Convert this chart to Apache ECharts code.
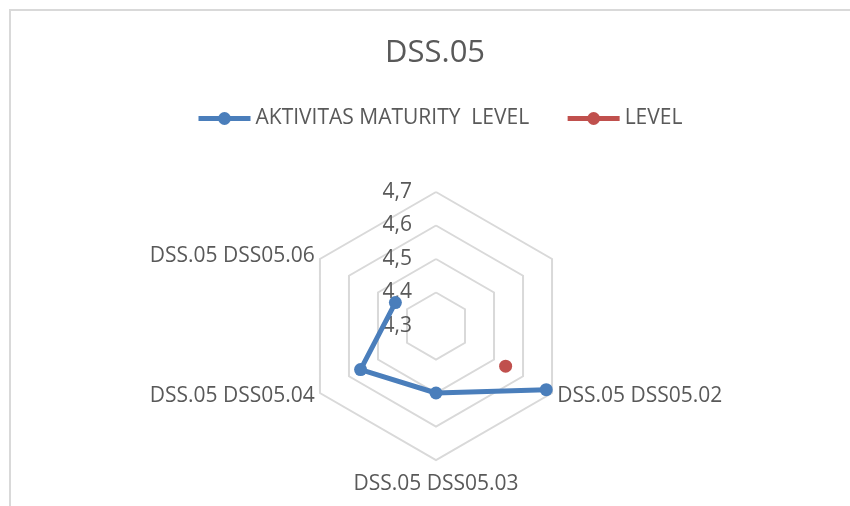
<!DOCTYPE html>
<html>
<head>
<meta charset="utf-8">
<script src="https://cdn.jsdelivr.net/npm/echarts@6/dist/echarts.min.js"></script>
<style>
html,body{margin:0;padding:0;background:#fff;}
#chart{width:850px;height:506px;}
</style>
</head>
<body>
<div id="chart"></div>
<script>
// Categories in clockwise order starting at the top (as in the source chart)
var categories = ['', '', 'DSS.05 DSS05.02', 'DSS.05 DSS05.03', 'DSS.05 DSS05.04', 'DSS.05 DSS05.06'];
var seriesNames = ['AKTIVITAS MATURITY  LEVEL', 'LEVEL'];
var aktivitasValues = [null, null, 4.68, 4.50, 4.56, 4.44];
var levelValues = [null, null, 4.54, null, null, null];
var axisMin = 4.3, axisMax = 4.7, axisSplits = 4;

var chart = echarts.init(document.getElementById('chart'), null, {renderer: 'canvas'});
var FONT = '"Open Sans", "Liberation Sans", sans-serif';
var TXT = '#595959';
var center = [436, 326];
var radius = 134;

// ECharts radar places indicators counter-clockwise; reorder so the
// hexagon matches the clockwise polar layout used for the series.
var radarOrder = [0];
for (var k = categories.length - 1; k >= 1; k--) radarOrder.push(k);
var indicators = radarOrder.map(function (i) {
  var ind = {name: categories[i], min: axisMin, max: axisMax, catIndex: i};
  if (i === 0) ind.axisLabel = {show: true};
  return ind;
});
var bottomIndex = categories.length / 2;

chart.setOption({
  backgroundColor: '#ffffff',
  animation: false,
  title: {
    text: 'DSS.05',
    left: 380,
    top: 33,
    textStyle: {fontFamily: FONT, fontSize: 31, fontWeight: 'normal', color: TXT}
  },
  legend: {
    top: 103,
    left: 191,
    itemWidth: 52,
    itemHeight: 16,
    itemGap: 36,
    lineStyle: {width: 5},
    textStyle: {fontFamily: FONT, fontSize: 21, color: TXT},
    data: seriesNames
  },
  graphic: [{
    type: 'rect',
    shape: {x: 10, y: 10, width: 900, height: 600},
    style: {fill: 'none', stroke: '#d9d9d9', lineWidth: 2},
    silent: true
  }],
  radar: {
    center: center,
    radius: radius,
    startAngle: 90,
    shape: 'polygon',
    splitNumber: axisSplits,
    indicator: indicators,
    axisName: {
      color: TXT, fontFamily: FONT, fontSize: 21,
      formatter: function (name, ind) {
        return ind && ind.catIndex === bottomIndex ? '{b|' + name + '}' : name;
      },
      rich: {b: {color: TXT, fontFamily: FONT, fontSize: 21, padding: [8, 0, 0, 0]}}
    },
    nameGap: 6,
    axisLine: {show: false},
    axisTick: {show: false},
    axisLabel: {show: false, color: TXT, fontFamily: FONT, fontSize: 21, margin: 24,
      formatter: function (v) { return String(Math.round(v * 10) / 10).replace('.', ','); }},
    splitLine: {lineStyle: {color: '#d9d9d9', width: 2}},
    splitArea: {show: false}
  },
  polar: {center: center, radius: radius},
  angleAxis: {
    type: 'category', data: categories, startAngle: 90, clockwise: true, boundaryGap: false,
    show: false
  },
  radiusAxis: {type: 'value', min: axisMin, max: axisMax, show: false},
  series: [{
    name: seriesNames[0],
    type: 'line',
    coordinateSystem: 'polar',
    data: aktivitasValues,
    symbol: 'circle',
    symbolSize: 13,
    connectNulls: false,
    itemStyle: {color: '#4a7ebb'},
    lineStyle: {color: '#4a7ebb', width: 5},
    z: 3
  }, {
    name: seriesNames[1],
    type: 'line',
    coordinateSystem: 'polar',
    data: levelValues,
    symbol: 'circle',
    symbolSize: 13,
    itemStyle: {color: '#c0504d'},
    lineStyle: {color: '#c0504d', width: 5},
    z: 3
  }]
});
</script>
</body>
</html>
